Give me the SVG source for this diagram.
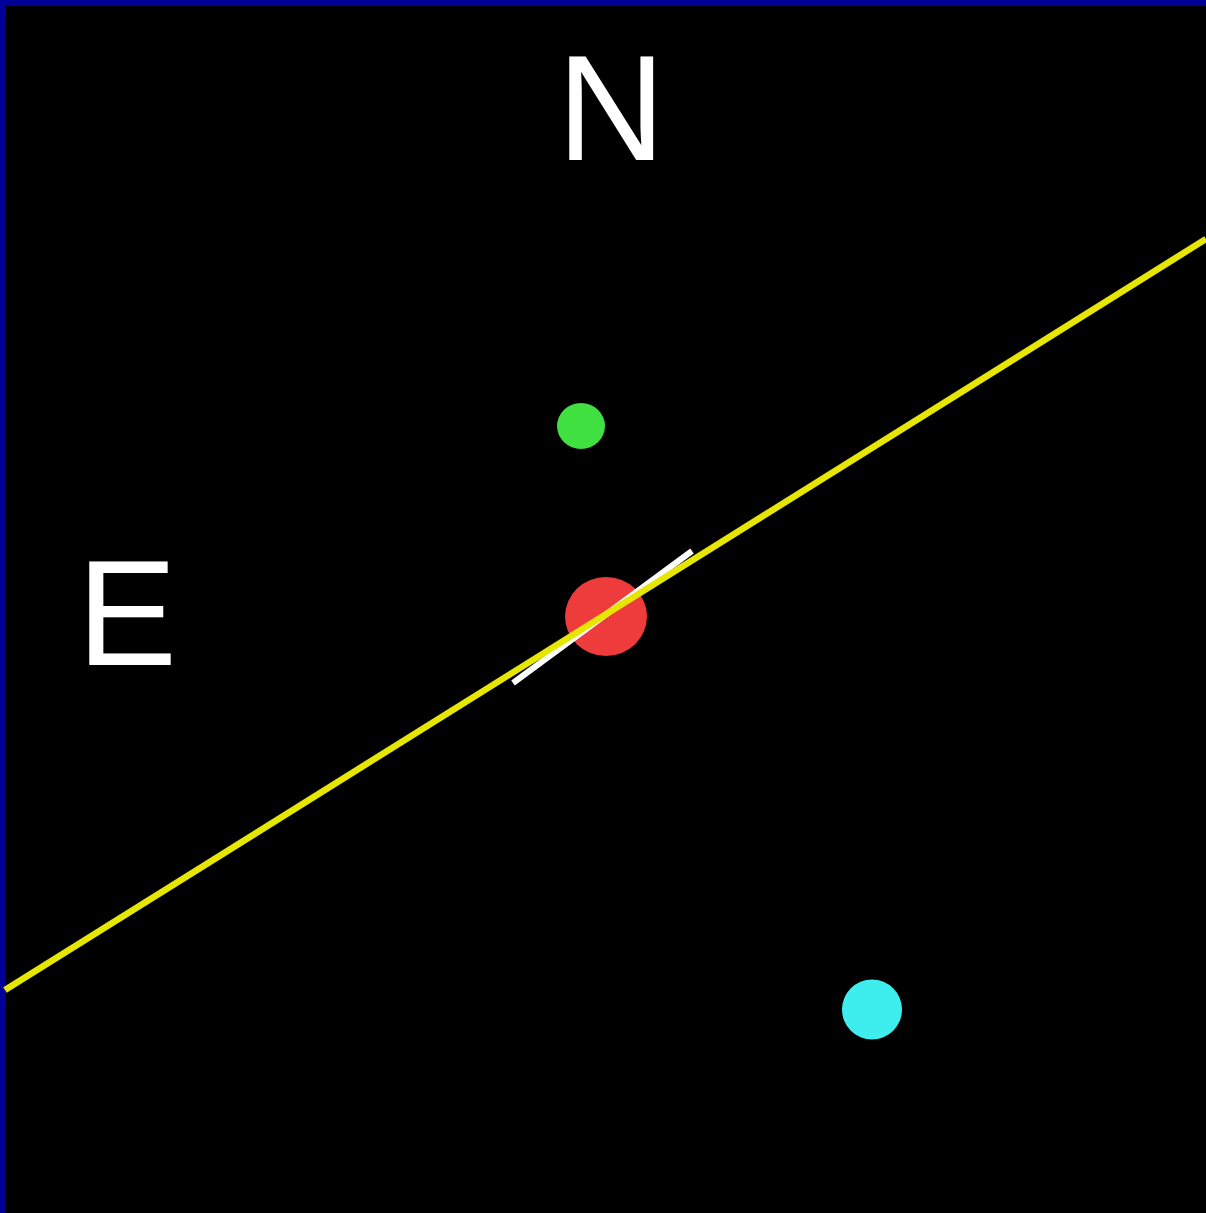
<svg xmlns="http://www.w3.org/2000/svg" width="1206" height="1213" viewBox="0 0 1206 1213">
<style>
.lbl{font-family:"Liberation Sans",Arial,sans-serif;font-size:150px;fill:#ffffff}
</style>
<rect x="0" y="0" width="1206" height="1213" fill="#000099"/>
<rect x="5" y="6" width="1201" height="1207" fill="#000000"/>
<g id="label-N"><text class="lbl" x="557" y="160">N</text></g>
<g id="label-E"><text class="lbl" x="77" y="665">E</text></g>
<g id="green"><ellipse cx="581" cy="426" rx="24" ry="23" fill="#41e041"/></g>
<g id="red"><ellipse cx="606" cy="616.5" rx="41" ry="39.5" fill="#ee3b3b"/></g>
<g id="cyan"><circle cx="872" cy="1009.5" r="30" fill="#3eeeee"/></g>
<g id="connectors">
<line x1="513" y1="683" x2="692" y2="551" stroke="#ffffff" stroke-width="6"/>
<line x1="5" y1="990" x2="1206" y2="239" stroke="#e6e600" stroke-width="6.5"/>
</g>
</svg>
